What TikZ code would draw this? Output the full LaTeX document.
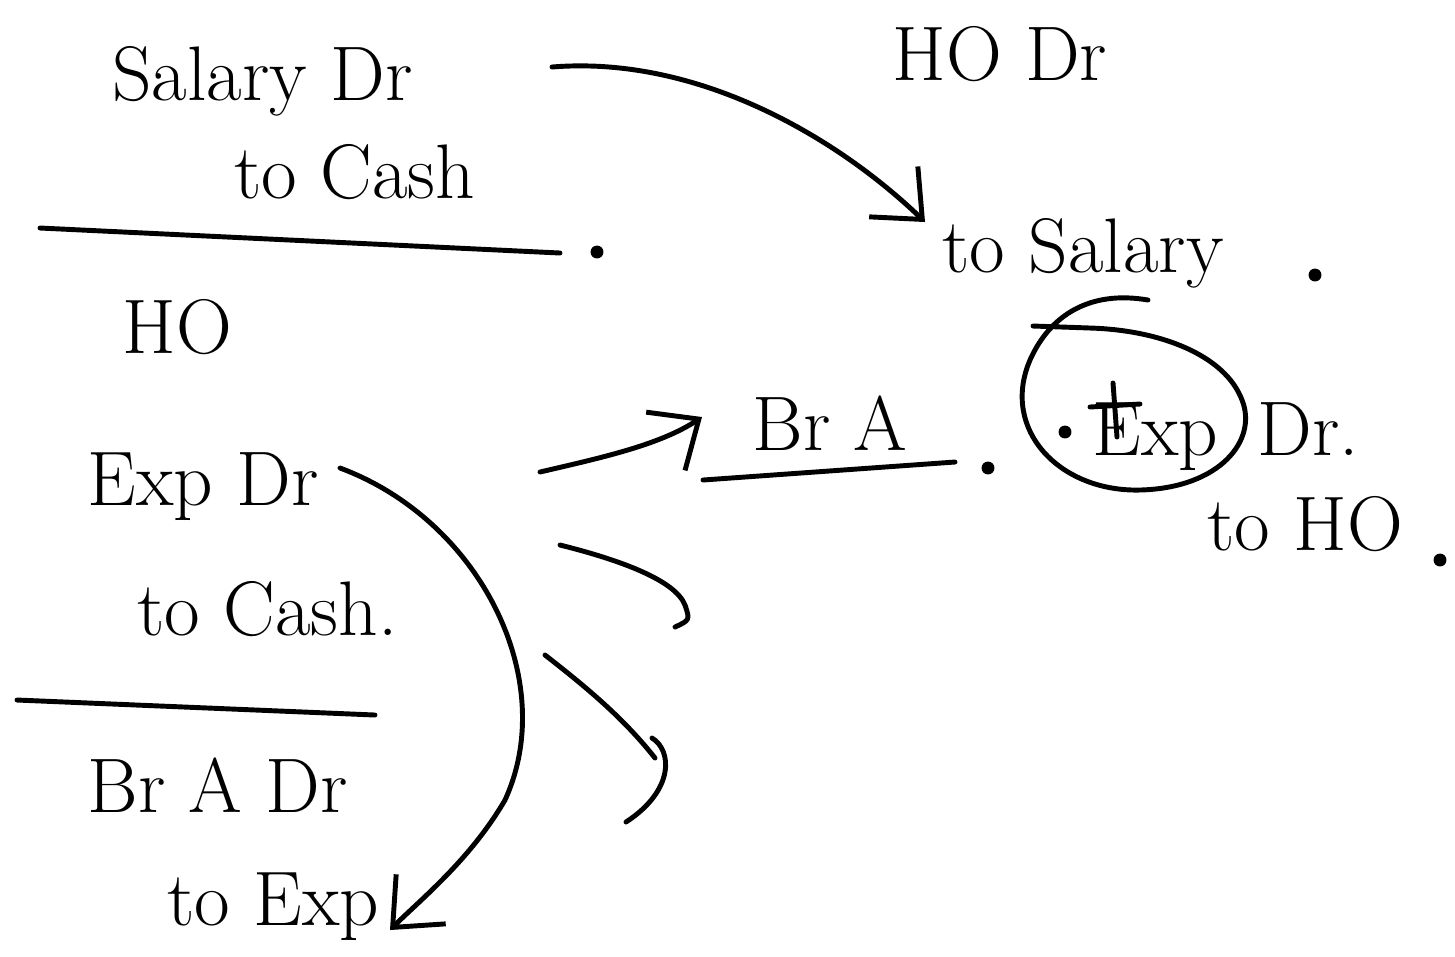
\documentclass[tikz,border=0pt]{standalone}
\usepackage{tikz}
\usetikzlibrary{arrows.meta}

\tikzset{
  pen/.style={line width=1.4pt, line cap=round, line join=round},
  hand/.style={font=\fontsize{22}{26}\selectfont, inner sep=0pt, anchor=base west},
  barb/.style={-{Straight Barb[length=4mm,width=7mm]}},
  spot/.style={fill, circle, inner sep=1.3pt}
}

\begin{document}
\begin{tikzpicture}[x=0.01cm, y=-0.01cm, pen]
  \useasboundingbox (0,0) rectangle (1455,956);

  % Ecritures de gauche
  \node[hand] (salaryDr) at (110,100) {Salary Dr};
  \node[hand] (toCash) at (232,198) {to Cash};
  \node[hand] (hoLabel) at (120,353) {HO};
  \node[hand] (expDr) at (85,505) {Exp Dr};
  \node[hand] (toCashB) at (135,635) {to Cash.};
  \node[hand] (brADr) at (85,812) {Br A Dr};
  \node[hand] (toExp) at (165,925) {to Exp};

  % Ecritures de droite
  \node[hand] (hoDr) at (890,80) {HO Dr};
  \node[hand] (toSalary) at (940,272) {to Salary};
  \node[hand] (brA) at (750,450) {Br A};
  \node[hand] (expC) at (1090,455) {Exp};
  \node[hand] (drC) at (1255,455) {Dr.};
  \node[hand] (toHO) at (1205,550) {to HO};

  % Les points
  \foreach \x/\y/\n in {597/252/1, 988/468/2, 1065/432/3, 1315/275/4, 1440/560/5} {
    \node[spot] (dot\n) at (\x,\y) {};
  }

  % Les traits
  \draw (40,228) -- (560,253);
  \draw (17,700) -- (375,715);
  \draw (703,480) -- (955,462);

  % Le E barre et le cercle
  \draw (1090,407) -- (1140,404);
  \draw (1113,383) -- (1117,437);
  \draw (1148,300) .. controls (1090,290) and (1050,315) .. (1030,360)
    .. controls (1000,430) and (1060,492) .. (1140,490)
    .. controls (1220,488) and (1258,440) .. (1242,400)
    .. controls (1225,355) and (1160,330) .. (1090,328) -- (1033,326);

  % Les fleches
  \coordinate (s1) at (552,67);
  \coordinate (e1) at (925,222);
  \draw[barb] (s1) .. controls (700,55) and (840,140) .. (e1);

  \coordinate (s2) at (540,472);
  \coordinate (e2) at (702,417);
  \draw[barb] (s2) .. controls (600,458) and (660,445) .. (e2);

  \coordinate (s3) at (340,468);
  \coordinate (e3) at (390,930);
  \draw[barb] (s3) .. controls (480,520) and (560,680) .. (505,800)
    .. controls (470,860) and (420,900) .. (e3);

  % Les crochets
  \coordinate (s4) at (560,545);
  \coordinate (e4) at (675,627);
  \draw (s4) .. controls (620,560) and (675,580) .. (685,605)
    .. controls (690,620) .. (e4);

  \coordinate (s5) at (545,655);
  \coordinate (e5) at (626,822);
  \draw (s5) .. controls (590,690) and (625,720) .. (655,758);
  \draw (652,738) .. controls (672,750) and (675,790) .. (e5);
\end{tikzpicture}
\end{document}
